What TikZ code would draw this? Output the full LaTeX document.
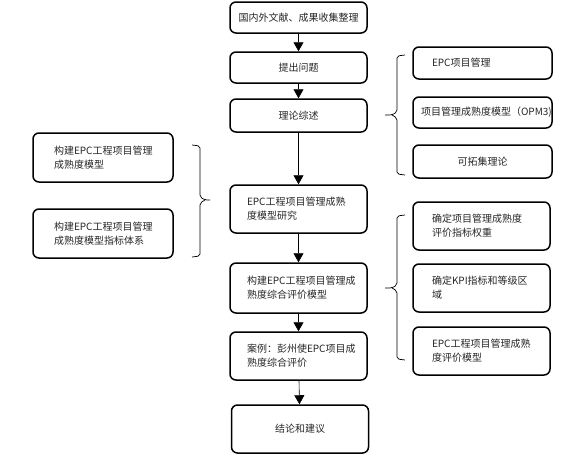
\documentclass[tikz,border=0pt]{standalone}
\usepackage{fontspec}
\setmainfont{Noto Sans CJK SC}
\usepackage{tikz}
\usetikzlibrary{arrows.meta,calc}
\tikzset{>={Triangle[width=10pt,length=9pt]},
    stage/.style={draw, rounded corners=6pt, line width=1.5pt, minimum width=137pt,
        text width=103pt, inner xsep=17pt, align=left, text=black!85,
        font=\fontsize{10}{14}\selectfont},
    topic/.style={stage, minimum width=139pt, text width=101pt, inner xsep=19pt},
    side/.style={stage, minimum width=140pt, text width=98pt, inner xsep=21pt},
    link/.style={->, line width=0.6pt},
    bracket/.style={line width=0.7pt, rounded corners=2pt}}

\begin{document}
\begin{tikzpicture}[x=1pt, y=-1pt]
    \useasboundingbox (0,0) rectangle (581,467);
    \node[stage, align=center, text width=123pt, inner xsep=7pt, minimum height=31pt] (lit) at (298.5, 17.5) {国内外文献、成果收集整理};
    \node[stage, align=center, minimum height=31pt] (issue) at (298.5, 67.5) {提出问题};
    \node[stage, align=center, minimum height=33pt] (review) at (298.5, 115.5) {理论综述};
    \node[stage, minimum height=48pt] (study) at (298.5, 209) {EPC工程项目管理成熟\\度模型研究};
    \node[stage, minimum height=50pt] (evalmodel) at (298.5, 288) {构建EPC工程项目管理成\\熟度综合评价模型};
    \node[stage, minimum height=48pt] (case) at (298.5, 356) {案例：彭州使EPC项目成\\熟度综合评价};
    \node[stage, align=center, minimum width=136pt, minimum height=48pt] (concl) at (300, 429) {结论和建议};
    \node[topic, minimum height=32pt] (epc) at (482.5, 63) {EPC项目管理};
    \node[topic, text width=123pt, inner xsep=8pt, minimum height=31pt] (opm) at (482.5, 112.5) {项目管理成熟度模型（OPM3)};
    \node[topic, align=center, minimum height=33pt] (extenics) at (482.5, 161.5) {可拓集理论};
    \node[side, minimum height=49pt] (lmodel) at (103, 157.5) {构建EPC工程项目管理\\成熟度模型};
    \node[side, minimum height=49pt] (lindex) at (103, 233.5) {构建EPC工程项目管理\\成熟度模型指标体系};
    \node[topic, minimum width=137pt, text width=99pt, minimum height=48pt] (weight) at (481.5, 226) {确定项目管理成熟度\\评价指标权重};
    \node[topic, minimum width=137pt, text width=99pt, minimum height=48pt] (kpi) at (481.5, 288) {确定KPI指标和等级区\\域};
    \node[topic, minimum width=137pt, text width=99pt, minimum height=48pt] (emodel) at (481.5, 351) {EPC工程项目管理成熟\\度评价模型};
    \draw[link] (lit) -- (issue);
    \draw[link] (issue) -- (review);
    \draw[link] (review) -- (study);
    \draw[link] (study) -- (evalmodel);
    \draw[link] (evalmodel) -- (case);
    \draw[link] (case) -- (concl);
    \draw[bracket] (405,55) -- (397,56) -- (397,112) -- (392,115) -- (385,115)
        (392,115) -- (397,118) -- (397,174) -- (405,175);
    \draw[bracket] (192,145) -- (200,146) -- (200,197) -- (205,200) -- (210,200)
        (205,200) -- (200,203) -- (200,256) -- (192,257);
    \draw[bracket] (405,215) -- (397,216) -- (397,285) -- (392,288) -- (385,288)
        (392,288) -- (397,291) -- (397,359) -- (405,360);
\end{tikzpicture}
\end{document}
